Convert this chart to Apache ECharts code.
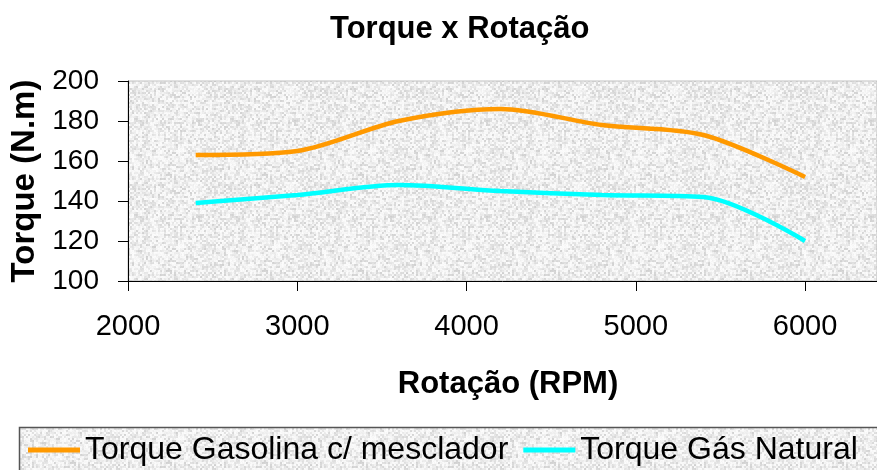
<!DOCTYPE html>
<html><head><meta charset="utf-8">
<script src="https://cdn.jsdelivr.net/npm/echarts@6/dist/echarts.min.js"></script>
<style>html,body{margin:0;padding:0;background:#fff}#c{width:877px;height:470px}</style>
</head><body><div id="c"></div>
<script>
const rpm = [2400, 3000, 3600, 4200, 4800, 5400, 6000];
const torqueGasolina = [163, 165, 180, 186, 178, 173, 152];
const torqueGasNatural = [139, 143, 148, 145, 143, 142, 120];
const seriesNames = ['Torque Gasolina c/ mesclador', 'Torque Gás Natural'];
const titleText = 'Torque x Rotação';
const xName = 'Rotação (RPM)';
const yName = 'Torque (N.m)';

// deterministic granite-like texture
function makeTexture() {
  const s = 96, cv = document.createElement('canvas');
  cv.width = s; cv.height = s;
  const ctx = cv.getContext('2d');
  const img = ctx.createImageData(s, s);
  function h(x, y) { let n = x * 374761393 + y * 668265263; n = (n ^ (n >>> 13)) * 1274126177; n = n ^ (n >>> 16); return ((n >>> 0) % 1000) / 1000; }
  for (let y = 0; y < s; y++) for (let x = 0; x < s; x++) {
    const a = h(x >> 1, y >> 1), b = h(x, y + 999);
    let v = 246 - Math.pow(a, 2) * 40 + b * 8;
    v = Math.max(200, Math.min(252, v));
    const i = (y * s + x) * 4;
    img.data[i] = img.data[i + 1] = img.data[i + 2] = v; img.data[i + 3] = 255;
  }
  ctx.putImageData(img, 0, 0);
  return cv;
}
const tex = makeTexture();
const font = 'Liberation Sans, Arial, sans-serif';
const chart = echarts.init(document.getElementById('c'));
chart.setOption({
  animation: false,
  title: { text: titleText, left: 325, top: 9, textStyle: { fontFamily: font, fontSize: 31, fontWeight: 'bold', color: '#000' } },
  graphic: [{ type: 'rect', shape: { x: 19.5, y: 427.5, width: 900, height: 60 }, style: { fill: { image: tex, repeat: 'repeat' }, stroke: '#555', lineWidth: 1.5 }, z: -1 }],
  legend: { left: 28, top: 434, itemWidth: 52, itemHeight: 5, itemGap: 15, icon: 'rect', padding: 0,
    textStyle: { fontFamily: font, fontSize: 32, color: '#000' },
    data: seriesNames },
  grid: { left: 128, top: 81, bottom: 189, right: -2, show: true, backgroundColor: { image: tex, repeat: 'repeat' }, borderColor: '#c0c0c0', borderWidth: 1 },
  xAxis: { type: 'value', min: 2000, max: 6425, interval: 1000,
    name: xName, nameLocation: 'middle', nameGap: 88,
    nameTextStyle: { fontFamily: font, fontSize: 31, fontWeight: 'bold', color: '#000', padding: [0, 0, 0, 11] },
    axisLine: { lineStyle: { color: '#000', width: 1 } },
    axisTick: { length: 10, lineStyle: { color: '#000' } },
    axisLabel: { showMaxLabel: false, fontFamily: font, fontSize: 29, color: '#000', margin: 31, formatter: v => String(v) },
    splitLine: { show: false } },
  yAxis: { type: 'value', min: 100, max: 200, interval: 20,
    name: yName, nameLocation: 'middle', nameGap: 85, nameRotate: 90,
    nameTextStyle: { fontFamily: font, fontSize: 33, fontWeight: 'bold', color: '#000' },
    axisLine: { show: true, lineStyle: { color: '#000', width: 1 } },
    axisTick: { show: true, length: 10, lineStyle: { color: '#000' } },
    axisLabel: { fontFamily: font, fontSize: 28, color: '#000', margin: 29 },
    splitLine: { show: false } },
  series: [
    { name: seriesNames[0], type: 'line', smooth: 0.3, showSymbol: false, symbol: 'none', color: '#ff9900', lineStyle: { width: 4.5, color: '#ff9900' },
      data: rpm.map((r, i) => [r, torqueGasolina[i]]) },
    { name: seriesNames[1], type: 'line', smooth: 0.3, showSymbol: false, symbol: 'none', color: '#00ffff', lineStyle: { width: 4.5, color: '#00ffff' },
      data: rpm.map((r, i) => [r, torqueGasNatural[i]]) }
  ]
});
</script></body></html>
